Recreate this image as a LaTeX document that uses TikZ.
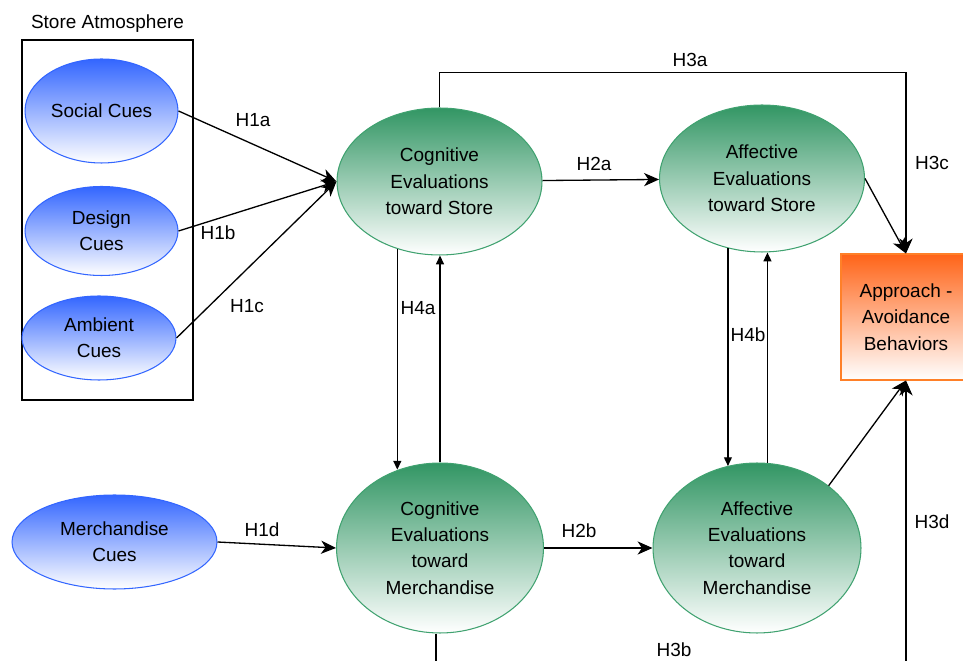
\documentclass[tikz,border=0pt]{standalone}
\usepackage{fontspec}
\setmainfont{Liberation Sans}
\usetikzlibrary{arrows.meta,positioning,shapes.geometric}
\definecolor{cueblue}{RGB}{51, 102, 255}
\definecolor{evalgreen}{RGB}{50, 150, 100}
\definecolor{evalborder}{RGB}{64, 162, 112}
\definecolor{outorange}{RGB}{255, 100, 24}
\definecolor{outborder}{RGB}{255, 128, 40}
\tikzset{
  cuenode/.style={ellipse, draw=cueblue, line width=0.6pt, top color=cueblue, bottom color=white, inner sep=0pt, align=center},
  evalnode/.style={ellipse, draw=evalborder, line width=0.6pt, top color=evalgreen, bottom color=white, inner sep=0pt, align=center},
  outnode/.style={rectangle, draw=outborder, line width=0.6pt, top color=outorange, bottom color=white, align=center, minimum width=2.6cm, minimum height=2.52cm},
  arrow/.style={-{Stealth[length=8.5pt, width=7.5pt, inset=2.5pt]}, line width=0.75pt},
  smallarrow/.style={-{Triangle[length=5pt, width=4.5pt]}, line width=0.75pt},
  lbl/.style={inner sep=0pt}
}

\begin{document}
\begin{tikzpicture}[x=0.02cm, y=-0.02cm, every node/.style={font=\fontsize{10.8}{15}\selectfont}]
  \useasboundingbox (0,0) rectangle (963,661);
  % store atmosphere group
  \node [draw, line width=0.75pt, minimum width=3.42cm, minimum height=7.2cm] (atmos) at (107.5,220) {};
  \node [lbl, above=4pt of atmos.north] (atmostitle) {Store Atmosphere};
  \node [cuenode, minimum width=3.06cm, minimum height=2.08cm] (social) at (101.5,111) {Social Cues};
  \node [cuenode, minimum width=3.06cm, minimum height=1.78cm] (design) at (101.5,231) {Design\\Cues};
  \node [cuenode, minimum width=3.08cm, minimum height=1.68cm] (ambient) at (99,338) {Ambient\\Cues};
  \node [cuenode, minimum width=4.1cm, minimum height=1.88cm] (merch) at (114.5,542) {Merchandise\\Cues};

  % evaluations
  \node [evalnode, minimum width=4.1cm, minimum height=2.94cm] (cogS) at (439.5,181.5) {Cognitive\\Evaluations\\toward Store};
  \node [evalnode, minimum width=4.1cm, minimum height=2.94cm] (affS) at (762,178.5) {Affective\\Evaluations\\toward Store};
  \node [evalnode, minimum width=4.14cm, minimum height=3.4cm] (cogM) at (440,548) {Cognitive\\Evaluations\\toward\\Merchandise};
  \node [evalnode, minimum width=4.16cm, minimum height=3.4cm] (affM) at (757,548) {Affective\\Evaluations\\toward\\Merchandise};
  \node [outnode] (approach) at (906,317) {Approach -\\Avoidance\\Behaviors};

  \coordinate (h3dstart) at (906,670);
  \coordinate (h3bend) at (436,670);

  \draw [arrow] (social.east) -- (cogS.west);
  \draw [arrow] (design.east) -- (cogS.west);
  \draw [arrow] (ambient.east) -- (cogS.west);
  \draw [arrow] (merch.east) -- (cogM.west);
  \draw [arrow] (cogS) -- (affS);
  \draw [arrow] (cogM) -- (affM);
  \draw [arrow] (cogS.north) -- ++(0,-35) -| (approach.north);
  \draw [arrow] (affS.east) -- (approach.north);
  \draw [arrow] (affM.41) -- (approach.south);
  \draw [arrow] (h3dstart) -- (approach.south);
  \draw [line width=0.75pt] (cogM.south -| h3bend) -- (h3bend);

  \draw [smallarrow] (cogS.238) -- (cogS.238 |- cogM.118);
  \draw [smallarrow] (cogM.north) -- (cogM.north |- cogS.south);
  \draw [smallarrow] (affS.244) -- (affS.244 |- affM.110);
  \draw [smallarrow] (affM.83) -- (affM.83 |- affS.south);

  % hypothesis labels
  \node [lbl] (h1a) at (253,120) {H1a};
  \node [lbl] (h1b) at (218,233) {H1b};
  \node [lbl] (h1c) at (247,306) {H1c};
  \node [lbl] (h1d) at (262,530) {H1d};
  \node [lbl] (h2a) at (594,164) {H2a};
  \node [lbl] (h2b) at (579,531) {H2b};
  \node [lbl] (h3a) at (690,60) {H3a};
  \node [lbl] (h3b) at (674,650) {H3b};
  \node [lbl] (h3c) at (932,163) {H3c};
  \node [lbl] (h3d) at (932,522) {H3d};
  \node [lbl] (h4a) at (418,308) {H4a};
  \node [lbl] (h4b) at (748,335) {H4b};
\end{tikzpicture}
\end{document}
